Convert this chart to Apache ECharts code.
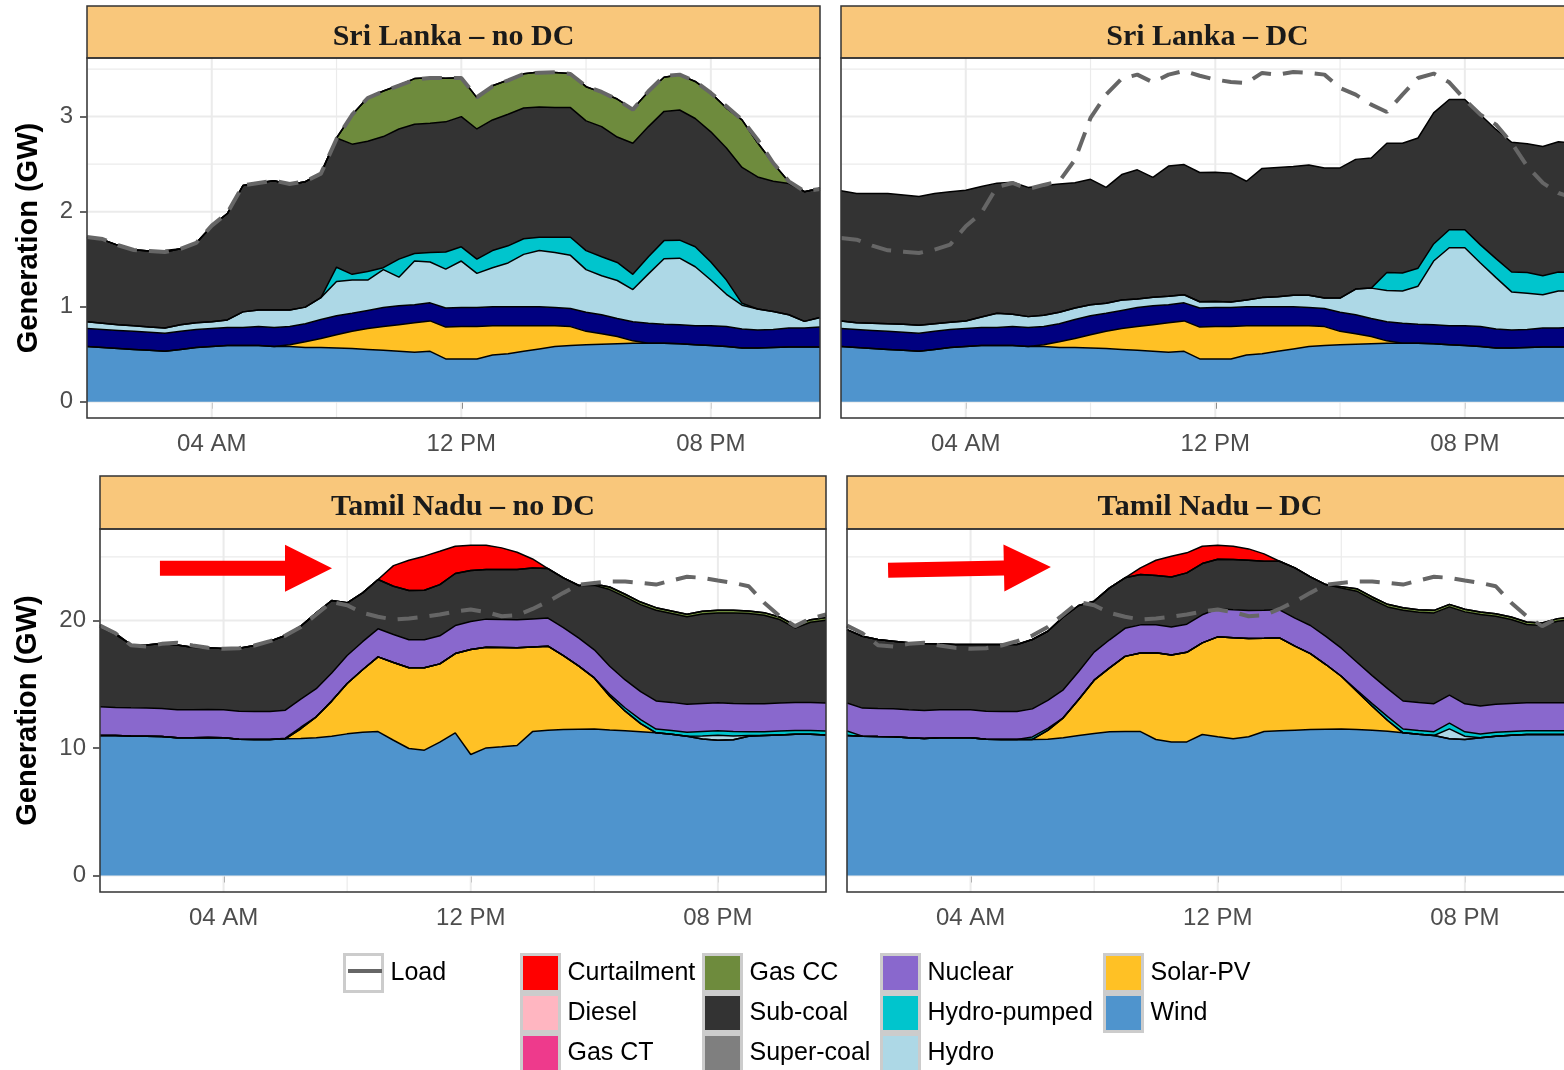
<!DOCTYPE html>
<html>
<head>
<meta charset="utf-8">
<script src="https://cdn.jsdelivr.net/npm/echarts@6/dist/echarts.min.js"></script>
<style>
  html, body { margin: 0; padding: 0; background: #ffffff; }
  #chart { width: 1564px; height: 1070px; }
</style>
</head>
<body>
<div id="chart"></div>
<script>
// ---- time axis (half-hourly, hours after midnight) ----
const hours = [0,0.5,1,1.5,2,2.5,3,3.5,4,4.5,5,5.5,6,6.5,7,7.5,8,8.5,9,9.5,10,10.5,11,11.5,
               12,12.5,13,13.5,14,14.5,15,15.5,16,16.5,17,17.5,18,18.5,19,19.5,20,20.5,21,21.5,22,22.5,23,23.5];
const xTickValues = [4, 12, 20];
const xTickLabels = ['04 AM', '12 PM', '08 PM'];
const xMinorValues = [0, 8, 16];

// ---- Sri Lanka (GW) ----
const loadSL = [1.733,1.712,1.646,1.596,1.586,1.575,1.607,1.67,1.853,1.986,
  2.277,2.302,2.326,2.291,2.319,2.4,2.765,3.02,3.196,3.267,
  3.326,3.389,3.407,3.407,3.407,3.204,3.319,3.382,3.449,3.463,
  3.467,3.449,3.319,3.26,3.179,3.074,3.267,3.425,3.442,3.372,
  3.249,3.109,2.968,2.758,2.512,2.319,2.214,2.239];
const loadSLdc = [1.723,1.705,1.642,1.593,1.579,1.565,1.6,1.653,1.846,1.986,
  2.26,2.302,2.239,2.281,2.319,2.547,2.986,3.232,3.4,3.442,
  3.361,3.442,3.481,3.43,3.39,3.365,3.354,3.46,3.442,3.47,
  3.46,3.442,3.302,3.232,3.126,3.049,3.232,3.407,3.453,3.361,
  3.179,3.021,2.916,2.723,2.477,2.302,2.196,2.144];
const windSL = [0.58,0.57,0.56,0.55,0.54,0.53,0.55,0.57,0.58,0.59,
  0.59,0.59,0.58,0.58,0.57,0.57,0.565,0.56,0.55,0.54,
  0.53,0.52,0.53,0.45,0.45,0.45,0.49,0.505,0.53,0.555,
  0.58,0.59,0.6,0.605,0.61,0.615,0.615,0.615,0.61,0.6,
  0.59,0.58,0.565,0.565,0.57,0.575,0.575,0.575];
const solarSL = [0,0,0,0,0,0,0,0,0,0,
  0,0,0,0.02,0.06,0.095,0.14,0.18,0.22,0.25,
  0.28,0.31,0.32,0.335,0.34,0.34,0.31,0.295,0.27,0.245,
  0.22,0.2,0.14,0.11,0.075,0.025,0,0,0,0,
  0,0,0,0,0,0,0,0];
const otherSL = [0.19,0.19,0.19,0.19,0.19,0.19,0.19,0.19,0.19,0.19,
  0.19,0.2,0.2,0.19,0.19,0.2,0.2,0.19,0.19,0.2,
  0.2,0.19,0.19,0.2,0.2,0.2,0.2,0.2,0.2,0.2,
  0.19,0.19,0.2,0.2,0.19,0.2,0.21,0.2,0.2,0.2,
  0.21,0.21,0.2,0.19,0.19,0.2,0.2,0.21];
const hydroSL = [0.07,0.065,0.06,0.06,0.055,0.055,0.07,0.07,0.07,0.08,
  0.165,0.175,0.185,0.175,0.175,0.23,0.36,0.35,0.32,0.4,
  0.3,0.46,0.43,0.41,0.49,0.36,0.41,0.46,0.55,0.59,
  0.58,0.56,0.45,0.41,0.4,0.34,0.52,0.69,0.7,0.62,
  0.48,0.34,0.25,0.22,0.19,0.14,0.07,0.1];
const pumpedSL = [0,0,0,0,0,0,0,0,0,0,
  0,0,0,0,0,0,0.15,0.06,0.09,0.02,
  0.19,0.08,0.1,0.18,0.15,0.15,0.18,0.18,0.165,0.14,
  0.16,0.19,0.2,0.2,0.19,0.16,0.18,0.19,0.19,0.21,
  0.19,0.15,0.02,0,0,0,0,0];
const subcoalSL = [0.89,0.88,0.835,0.8,0.8,0.8,0.8,0.84,1.01,1.12,
  1.33,1.34,1.36,1.32,1.32,1.31,1.36,1.37,1.37,1.38,
  1.37,1.36,1.36,1.37,1.37,1.37,1.375,1.385,1.375,1.37,
  1.365,1.365,1.365,1.37,1.32,1.38,1.37,1.36,1.37,1.35,
  1.37,1.39,1.43,1.39,1.37,1.38,1.365,1.36];
const gasccSL = [0,0,0,0,0,0,0,0,0,0,
  0,0,0,0,0,0,0,0.31,0.46,0.48,
  0.46,0.48,0.48,0.46,0.41,0.33,0.36,0.36,0.36,0.37,
  0.37,0.36,0.36,0.36,0.4,0.36,0.37,0.36,0.37,0.39,
  0.41,0.42,0.5,0.36,0.19,0.02,0,0];
const curtailSL = [0,0,0,0,0,0.015,0,0,0,0,
  0,0,0,0,0,0,0,0,0,0,
  0,0,0,0,0,0,0,0,0,0,
  0,0,0,0,0,0,0,0,0,0,
  0,0,0,0,0,0,0,0];
const hydroSLdc = [0.08,0.07,0.075,0.08,0.085,0.085,0.08,0.075,0.08,0.11,
  0.15,0.13,0.115,0.12,0.12,0.12,0.115,0.105,0.11,0.09,
  0.09,0.09,0.085,0.067,0.065,0.06,0.07,0.095,0.105,0.12,
  0.13,0.11,0.15,0.27,0.32,0.33,0.34,0.4,0.67,0.82,
  0.82,0.67,0.54,0.4,0.38,0.35,0.39,0.38];
const pumpedSLdc = [0,0,0,0,0,0,0,0,0,0,
  0,0,0,0,0,0,0,0,0,0,
  0,0,0,0,0,0,0,0,0,0,
  0,0,0,0,0,0.19,0.19,0.19,0.18,0.19,
  0.19,0.19,0.2,0.21,0.22,0.2,0.2,0.19];
const subcoalSLdc = [1.37,1.36,1.365,1.37,1.36,1.355,1.37,1.375,1.375,1.375,
  1.37,1.39,1.36,1.365,1.35,1.32,1.32,1.22,1.32,1.36,
  1.26,1.37,1.37,1.36,1.36,1.355,1.25,1.36,1.36,1.355,
  1.37,1.37,1.37,1.365,1.37,1.36,1.365,1.37,1.38,1.37,
  1.37,1.37,1.36,1.365,1.355,1.36,1.37,1.37];

// ---- Tamil Nadu (GW) ----
const loadTN = [19.6,19.0,18.07,17.96,18.17,18.25,18.04,17.86,17.78,17.83,
  18.04,18.38,18.82,19.5,20.47,21.46,21.2,20.6,20.3,20.08,
  20.16,20.3,20.47,20.7,20.86,20.67,20.34,20.42,20.91,21.5,
  22.17,22.82,22.95,23.06,23.06,22.95,22.82,23.14,23.43,23.35,
  23.14,22.95,22.69,21.39,20.34,19.56,20.16,20.47];
const windTN = [10.98,10.98,10.95,10.93,10.9,10.8,10.8,10.82,10.8,10.69,
  10.67,10.67,10.72,10.75,10.8,10.93,11.11,11.24,11.29,10.61,
  9.96,9.83,10.46,11.19,9.49,10.01,10.09,10.2,11.29,11.4,
  11.45,11.48,11.5,11.42,11.35,11.27,11.19,11.08,10.93,10.7,
  10.6,10.65,10.93,10.98,11.03,11.08,11.08,11.03];
const solarTN = [0,0,0,0,0,0,0,0,0,0,
  0,0,0,0.76,1.65,2.75,3.95,4.9,5.86,6.1,
  6.33,6.46,6.14,6.22,8.24,7.9,7.8,7.66,6.64,6.59,
  5.8,4.94,4.0,2.64,1.54,0.65,0,0,0,0,
  0,0,0,0,0,0,0,0];
const hydroTN = [0,0,0,0,0,0,0,0,0,0,
  0,0,0,0,0,0,0,0,0,0,
  0,0,0,0,0,0,0,0,0,0,
  0,0,0,0,0,0,0,0,0,0.25,
  0.4,0.3,0.05,0,0,0,0,0];
const pumpedTN = [0,0,0,0,0,0,0,0,0,0,
  0,0,0.05,0.12,0,0,0,0,0,0,
  0,0,0,0,0,0,0,0,0,0,
  0,0,0,0.15,0.25,0.3,0.3,0.3,0.3,0.35,
  0.35,0.35,0.3,0.3,0.3,0.3,0.3,0.3];
const nuclearTN = [2.25,2.2,2.2,2.2,2.2,2.2,2.2,2.2,2.2,2.2,
  2.2,2.2,2.2,2.2,2.2,2.2,2.2,2.2,2.2,2.2,
  2.2,2.2,2.2,2.2,2.2,2.2,2.2,2.2,2.2,2.2,
  2.2,2.2,2.2,2.2,2.2,2.2,2.2,2.2,2.2,2.2,
  2.2,2.2,2.2,2.2,2.2,2.2,2.2,2.2];
const subcoalTN = [6.25,5.72,4.97,4.96,5.1,5.09,4.91,4.84,4.8,4.94,
  5.17,5.51,5.85,5.73,5.95,5.69,4.13,3.83,3.87,3.78,
  3.86,3.89,4.02,4.08,3.99,3.89,3.91,3.94,4.0,3.89,
  3.9,4.13,5.07,6.02,6.52,6.83,7.12,6.97,6.86,7.02,
  7.05,7.1,7.07,6.94,6.55,5.84,6.29,6.5];
const gasccTN = [0.15,0.1,0,0,0,0,0,0,0,0,
  0,0,0,0,0,0,0,0,0,0,
  0,0,0,0,0,0,0,0,0,0,
  0,0,0.1,0.2,0.2,0.2,0.2,0.2,0.2,0.2,
  0.2,0.2,0.2,0.2,0.2,0.2,0.2,0.2];
const curtailTN = [0,0,0,0,0,0,0,0,0,0,
  0,0,0,0,0,0,0,0,0,1.62,
  2.38,2.67,2.61,2.14,1.99,1.9,1.7,1.36,0.7,0,
  0,0,0,0,0,0,0,0,0,0,
  0,0,0,0,0,0,0,0];
const windTNdc = [10.98,10.93,10.9,10.88,10.8,10.75,10.8,10.8,10.8,10.69,
  10.67,10.67,10.67,10.69,10.8,10.98,11.14,11.27,11.29,11.29,
  10.67,10.48,10.48,11.06,10.88,10.72,10.88,11.29,11.35,11.4,
  11.45,11.48,11.5,11.45,11.4,11.32,11.19,11.08,10.98,10.72,
  10.67,10.8,10.93,11.0,11.06,11.06,11.06,11.06];
const solarTNdc = [0,0,0,0,0,0,0,0,0,0,
  0,0,0,0.7,1.57,2.82,4.18,5.02,5.9,6.17,
  6.8,6.82,7.03,7.19,7.84,7.92,7.71,7.32,7.29,6.59,
  5.96,5.07,4.13,3.0,1.88,0.84,0,0,0,0,
  0,0,0,0,0,0,0,0];
const hydroTNdc = [0,0,0,0,0,0,0,0,0,0,
  0,0,0,0,0,0,0,0,0,0,
  0,0,0,0,0,0,0,0,0,0,
  0,0,0,0,0,0,0,0,0,0.78,
  0.25,0,0,0,0,0,0,0];
const pumpedTNdc = [0.35,0,0,0,0,0,0,0,0,0,
  0,0,0.2,0.15,0,0,0,0,0,0,
  0,0,0,0,0,0,0,0,0,0,
  0,0,0,0.1,0.2,0.3,0.3,0.3,0.3,0.45,
  0.35,0.3,0.3,0.3,0.3,0.3,0.3,0.3];
const nuclearTNdc = [2.2,2.2,2.2,2.2,2.2,2.2,2.2,2.2,2.2,2.2,
  2.2,2.2,2.2,2.2,2.2,2.2,2.2,2.2,2.2,2.2,
  2.2,2.2,2.2,2.2,2.2,2.2,2.2,2.2,2.2,2.2,
  2.2,2.2,2.2,2.2,2.2,2.2,2.2,2.2,2.2,2.2,
  2.2,2.2,2.2,2.2,2.2,2.2,2.2,2.2];
const subcoalTNdc = [5.76,5.64,5.41,5.3,5.25,5.25,5.17,5.12,5.12,5.23,
  5.25,5.25,5.44,5.42,5.72,5.18,4.0,4.07,3.96,3.95,
  3.86,3.92,4.03,4.02,3.88,3.94,3.94,3.84,3.81,3.94,
  3.81,4.07,4.73,5.55,5.97,6.41,7.12,7.07,7.12,6.92,
  7.21,7.17,6.91,6.58,6.13,6.05,6.39,6.52];
const gasccTNdc = [0,0,0,0,0,0,0,0,0,0,
  0,0,0,0,0,0,0,0,0,0,
  0,0,0,0,0,0,0,0,0,0,
  0,0,0.1,0.2,0.2,0.2,0.2,0.2,0.2,0.2,
  0.2,0.2,0.2,0.2,0.2,0.2,0.2,0.2];
const curtailTNdc = [0,0,0,0,0,0,0,0,0,0,
  0,0,0,0,0,0,0,0,0,0.52,
  1.2,1.62,1.57,1.36,1.1,1.05,0.89,0.58,0,0,
  0,0,0,0,0,0,0,0,0,0,
  0,0,0,0,0,0,0,0];

// arrow annotations: [startHour, startGW, endHour, endGW]
const arrowTN = [1.94, 24.1, 7.51, 24.1];
const arrowTNdc = [1.33, 23.95, 6.6, 24.2];

// ---- styling ----
const FONT = '"Liberation Sans", Arial, Helvetica, sans-serif';
const SERIF = '"Liberation Serif", "Times New Roman", serif';
const colors = {
  'Curtailment': '#FF0000', 'Diesel': '#FFB6C1', 'Gas CT': '#EE3A8C',
  'Gas CC': '#6E8B3D', 'Sub-coal': '#333333', 'Super-coal': '#7F7F7F',
  'Nuclear': '#8968CD', 'Hydro-pumped': '#00C5CD', 'Hydro': '#ADD8E6',
  'Solar-PV': '#FFC125', 'Wind': '#4F94CD', 'Other': '#000080'
};

const panels = [
  { title: 'Sri Lanka \u2013 no DC', left: 87, top: 58, width: 733, height: 360, stripTop: 6,
    yMin: -0.172, yMax: 3.617, yTicks: [0, 1, 2, 3], yMinor: [0.5, 1.5, 2.5, 3.5], showY: true, nameGap: 44,
    layers: [['Wind', windSL], ['Solar-PV', solarSL], ['Other', otherSL], ['Hydro', hydroSL],
             ['Hydro-pumped', pumpedSL], ['Sub-coal', subcoalSL], ['Gas CC', gasccSL], ['Curtailment', curtailSL]],
    load: loadSL, arrow: null },
  { title: 'Sri Lanka \u2013 DC', left: 841, top: 58, width: 733, height: 360, stripTop: 6,
    yMin: -0.172, yMax: 3.617, yTicks: [0, 1, 2, 3], yMinor: [0.5, 1.5, 2.5, 3.5], showY: false,
    layers: [['Wind', windSL], ['Solar-PV', solarSL], ['Other', otherSL], ['Hydro', hydroSLdc],
             ['Hydro-pumped', pumpedSLdc], ['Sub-coal', subcoalSLdc]],
    load: loadSLdc, arrow: null },
  { title: 'Tamil Nadu \u2013 no DC', left: 100, top: 529, width: 726, height: 363, stripTop: 476,
    yMin: -1.294, yMax: 27.18, yTicks: [0, 10, 20], yMinor: [5, 15, 25], showY: true, nameGap: 58,
    layers: [['Wind', windTN], ['Solar-PV', solarTN], ['Hydro', hydroTN], ['Hydro-pumped', pumpedTN],
             ['Nuclear', nuclearTN], ['Sub-coal', subcoalTN], ['Gas CC', gasccTN], ['Curtailment', curtailTN]],
    load: loadTN, arrow: arrowTN },
  { title: 'Tamil Nadu \u2013 DC', left: 847, top: 529, width: 726, height: 363, stripTop: 476,
    yMin: -1.294, yMax: 27.18, yTicks: [0, 10, 20], yMinor: [5, 15, 25], showY: false,
    layers: [['Wind', windTNdc], ['Solar-PV', solarTNdc], ['Hydro', hydroTNdc], ['Hydro-pumped', pumpedTNdc],
             ['Nuclear', nuclearTNdc], ['Sub-coal', subcoalTNdc], ['Gas CC', gasccTNdc], ['Curtailment', curtailTNdc]],
    load: loadTN, arrow: arrowTNdc }
];

// category index of an hour value on the half-hourly axis
const hourIndex = h => hours.indexOf(h);
const tickIdx = xTickValues.map(hourIndex);

// pixel x of a fractional hour, interpolated between neighbouring category slots
function hourToPixel(api, h, v) {
  const k0 = Math.floor(h * 2), f = h * 2 - k0;
  const a = api.coord([k0, v]), b = api.coord([Math.min(k0 + 1, hours.length - 1), v]);
  return [a[0] + (b[0] - a[0]) * f, a[1]];
}

const grids = [], xAxes = [], yAxes = [], series = [], graphics = [];

panels.forEach((p, i) => {
  // the right-hand panels run past the page edge, so keep the grid size as given
  grids.push({ left: p.left, top: p.top, width: p.width, height: p.height,
    containLabel: false, outerBoundsMode: 'none' });

  xAxes.push({
    type: 'category', gridIndex: i, data: hours, boundaryGap: false,
    axisLine: { show: false }, splitLine: { show: false },
    axisTick: { show: true, interval: idx => tickIdx.includes(idx), length: 7,
      lineStyle: { color: '#333333', width: 1.5 } },
    axisLabel: { interval: idx => tickIdx.includes(idx),
      formatter: (val, idx) => { const j = tickIdx.indexOf(idx); return j >= 0 ? xTickLabels[j] : ''; },
      fontSize: 24, color: '#4D4D4D', fontFamily: FONT, margin: 14 }
  });

  yAxes.push({
    type: 'value', gridIndex: i, min: p.yMin, max: p.yMax,
    axisLine: { show: false }, splitLine: { show: false },
    axisTick: { show: p.showY, customValues: p.yTicks, length: 7, lineStyle: { color: '#333333', width: 1.5 } },
    axisLabel: { show: p.showY, customValues: p.yTicks, fontSize: 24, color: '#4D4D4D', fontFamily: FONT, margin: 14 },
    name: p.showY ? 'Generation (GW)' : '', nameLocation: 'middle', nameRotate: 90, nameGap: p.nameGap || 0,
    nameTextStyle: { fontSize: 29, fontWeight: 'bold', color: '#000000', fontFamily: FONT }
  });

  // panel grid lines (major + minor), drawn beneath the areas
  const gridData = [];
  p.yTicks.forEach(v => gridData.push([0, v, 1]));
  p.yMinor.forEach(v => gridData.push([0, v, 0]));
  xTickValues.forEach(v => gridData.push([1, hourIndex(v), 1]));
  xMinorValues.forEach(v => gridData.push([1, hourIndex(v), 0]));
  series.push({
    type: 'custom', xAxisIndex: i, yAxisIndex: i, z: 1, silent: true, data: gridData,
    renderItem: (params, api) => {
      const cs = params.coordSys;
      const o = api.value(0), v = api.value(1), major = api.value(2);
      let shape;
      if (o === 0) {
        const y = api.coord([0, v])[1];
        shape = { x1: cs.x, y1: y, x2: cs.x + cs.width, y2: y };
      } else {
        const x = api.coord([v, 0])[0];
        shape = { x1: x, y1: cs.y, x2: x, y2: cs.y + cs.height };
      }
      return { type: 'line', shape, style: { stroke: '#EBEBEB', lineWidth: major ? 2 : 1.2 } };
    }
  });

  // stacked generation areas
  p.layers.forEach(([name, vals]) => {
    series.push({
      type: 'line', name, xAxisIndex: i, yAxisIndex: i, stack: 'gen' + i,
      data: vals, symbol: 'none', color: colors[name],
      lineStyle: { color: '#000000', width: 1.5 },
      areaStyle: { color: colors[name], opacity: 1 },
      z: 2, silent: true
    });
  });

  // demand
  series.push({
    type: 'line', name: 'Load', xAxisIndex: i, yAxisIndex: i, data: p.load,
    symbol: 'none', color: '#666666',
    lineStyle: { color: '#666666', width: 4, type: [20, 12] }, z: 5, silent: true
  });

  if (p.arrow) {
    series.push({
      type: 'custom', xAxisIndex: i, yAxisIndex: i, z: 6, silent: true, data: [p.arrow],
      renderItem: (params, api) => {
        const a = hourToPixel(api, api.value(0), api.value(1));
        const b = hourToPixel(api, api.value(2), api.value(3));
        const dx = b[0] - a[0], dy = b[1] - a[1];
        const len = Math.sqrt(dx * dx + dy * dy);
        const ux = dx / len, uy = dy / len, nx = -uy, ny = ux;
        const headLen = 47, headHalf = 23.5, shaftHalf = 7.5;
        const bx = b[0] - ux * headLen, by = b[1] - uy * headLen;
        const pts = [
          [a[0] + nx * shaftHalf, a[1] + ny * shaftHalf],
          [bx + nx * shaftHalf, by + ny * shaftHalf],
          [bx + nx * headHalf, by + ny * headHalf],
          [b[0], b[1]],
          [bx - nx * headHalf, by - ny * headHalf],
          [bx - nx * shaftHalf, by - ny * shaftHalf],
          [a[0] - nx * shaftHalf, a[1] - ny * shaftHalf]
        ];
        return { type: 'polygon', shape: { points: pts }, style: { fill: '#FF0000' } };
      }
    });
  }

  // facet strip and panel border
  const stripH = p.top - p.stripTop;
  graphics.push({
    type: 'rect', z: 100, silent: true,
    shape: { x: p.left, y: p.stripTop, width: p.width, height: stripH },
    style: { fill: '#F9C77B', stroke: '#333333', lineWidth: 1.5 }
  });
  graphics.push({
    type: 'text', z: 101, silent: true,
    style: { text: p.title, x: p.left + p.width / 2, y: p.stripTop + stripH / 2 + 5,
      align: 'center', verticalAlign: 'middle', fontSize: 30, fontWeight: 'bold',
      fontFamily: SERIF, fill: '#1A1A1A' }
  });
  graphics.push({
    type: 'rect', z: 100, silent: true,
    shape: { x: p.left, y: p.top, width: p.width, height: p.height },
    style: { fill: 'none', stroke: '#333333', lineWidth: 1.5 }
  });
});

// fuels listed in the legend that do not run in these cases
['Diesel', 'Gas CT', 'Super-coal'].forEach(name => {
  series.push({ type: 'line', name, xAxisIndex: 0, yAxisIndex: 0, data: [], color: colors[name], symbol: 'none' });
});

const legendCols = [
  { names: ['Load'], left: 343 },
  { names: ['Curtailment', 'Diesel', 'Gas CT'], left: 520 },
  { names: ['Gas CC', 'Sub-coal', 'Super-coal'], left: 702 },
  { names: ['Nuclear', 'Hydro-pumped', 'Hydro'], left: 880 },
  { names: ['Solar-PV', 'Wind'], left: 1103 }
];
const legends = legendCols.map(c => ({
  orient: 'vertical', left: c.left, top: 953, height: 130, padding: 0,
  itemWidth: 38, itemHeight: 37, itemGap: 0, icon: 'rect', selectedMode: false,
  itemStyle: { borderColor: '#CCCCCC', borderWidth: 3 },
  textStyle: { fontSize: 25, color: '#000000', fontFamily: FONT, padding: [0, 0, 0, 3] },
  data: c.names.map(n => ({ name: n, icon: 'rect',
    itemStyle: { color: n === 'Load' ? '#FFFFFF' : colors[n], borderColor: '#CCCCCC', borderWidth: 3 } }))
}));

// line glyph inside the Load key
graphics.push({
  type: 'line', z: 100, silent: true,
  shape: { x1: 348, y1: 971, x2: 382, y2: 971 },
  style: { stroke: '#666666', lineWidth: 4 }
});

const chart = echarts.init(document.getElementById('chart'), null, { renderer: 'canvas' });
chart.setOption({
  animation: false,
  backgroundColor: '#FFFFFF',
  grid: grids,
  xAxis: xAxes,
  yAxis: yAxes,
  legend: legends,
  series: series,
  graphic: { elements: graphics }
});
</script>
</body>
</html>
